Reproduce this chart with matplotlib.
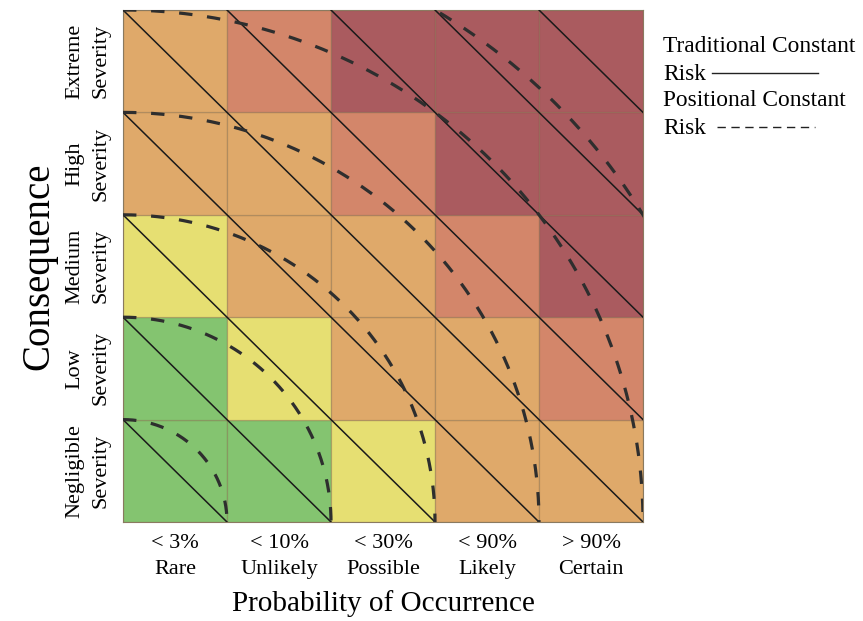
import numpy as np
import matplotlib
matplotlib.use("Agg")
import matplotlib.pyplot as plt
from matplotlib.lines import Line2D

plt.rcParams['font.family'] = ['Liberation Serif', 'DejaVu Serif']

# ---- data ----
x_labels = ["< 3%\nRare", "< 10%\nUnlikely", "< 30%\nPossible", "< 90%\nLikely", "> 90%\nCertain"]
y_labels = ["Negligible\nSeverity", "Low\nSeverity", "Medium\nSeverity", "High\nSeverity", "Extreme\nSeverity"]
# risk level per cell, rows bottom (Negligible) -> top (Extreme), cols Rare -> Certain
risk_levels = [
    [1, 1, 2, 3, 3],
    [1, 2, 3, 3, 4],
    [2, 3, 3, 4, 5],
    [3, 3, 4, 5, 5],
    [3, 4, 5, 5, 5],
]
level_colors = {1: "#84c470", 2: "#e6df72", 3: "#dfa96a", 4: "#d3866a", 5: "#aa5b5f"}
# traditional constant risk: x + y = k
traditional_levels = [1, 2, 3, 4, 5, 6, 7, 8, 9]
# positional constant risk: x^2 + y^2 = r^2
positional_r2 = [1, 4, 9, 16, 25, 34]

fig = plt.figure(figsize=(8.63, 6.21), dpi=100)
ax = fig.add_axes([123/863, 1 - 522/621, 520/863, 512/621])

n = len(x_labels)
for r, row in enumerate(risk_levels):
    for c, lvl in enumerate(row):
        ax.add_patch(plt.Rectangle((c, r), 1, 1, facecolor=level_colors[lvl],
                                   edgecolor=(0.45, 0.35, 0.2, 0.35), lw=0.9, zorder=1))

for k in traditional_levels:
    xs = np.array([max(0, k - n), min(n, k)])
    ax.plot(xs, k - xs, color="#1a1a1a", lw=1.1, zorder=3)

th = np.linspace(0, np.pi / 2, 400)
for r2 in positional_r2:
    rad = np.sqrt(r2)
    ax.plot(rad * np.sin(th), rad * np.cos(th), color="#2e2e2e", lw=2.3,
            dashes=(4.2, 4.6), zorder=4)

ax.set_xlim(0, n)
ax.set_ylim(0, n)
ax.set_xticks(np.arange(n) + 0.5)
ax.set_xticklabels(x_labels, fontsize=16, linespacing=1.45)
ax.set_yticks(np.arange(n) + 0.5)
ax.set_yticklabels(y_labels, fontsize=16, rotation=90, va="center", ha="center",
                   linespacing=1.5)
ax.tick_params(axis='both', length=0)
ax.tick_params(axis='x', pad=9)
ax.tick_params(axis='y', pad=25)
for s in ax.spines.values():
    s.set_linewidth(0.8)
    s.set_color("#8a7a60")

ax.set_xlabel("Probability of Occurrence", fontsize=21, labelpad=8)
ax.set_ylabel("Consequence", fontsize=28, labelpad=6)

# legend drawn as text + lines in figure coordinates
def fx(px):
    return px / 863
def fy(py):
    return 1 - py / 621

fig.text(fx(663), fy(47), "Traditional Constant", fontsize=16.8, va="center", ha="left")
fig.text(fx(663), fy(75), "Risk", fontsize=16.8, va="center", ha="left")
fig.add_artist(Line2D([fx(712), fx(818)], [fy(73), fy(73)], color="#222222", lw=1.0))
fig.text(fx(663), fy(101), "Positional Constant", fontsize=16.8, va="center", ha="left")
fig.text(fx(663), fy(128), "Risk", fontsize=16.8, va="center", ha="left")
fig.add_artist(Line2D([fx(717), fx(815)], [fy(127), fy(127)], color="#222222", lw=1.0,
                      dashes=(6, 4)))

fig.savefig("out.png", dpi=100)
